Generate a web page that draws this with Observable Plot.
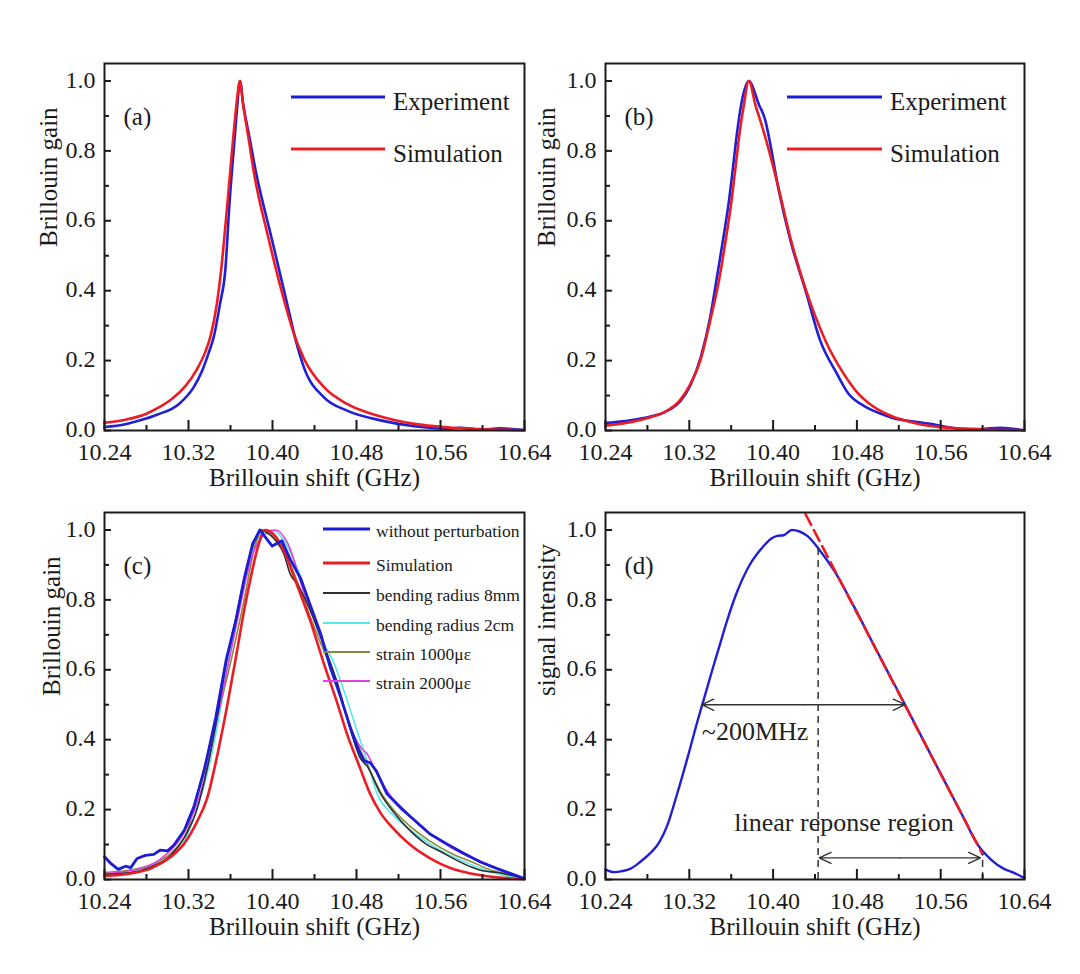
<!DOCTYPE html>
<html><head><meta charset="utf-8">
<script src="https://cdn.jsdelivr.net/npm/d3@7"></script>
<script src="https://cdn.jsdelivr.net/npm/@observablehq/plot@0.6"></script>
<style>
html,body{margin:0;padding:0;background:#fff;}
#wrap{position:relative;width:1080px;height:974px;overflow:hidden;background:#fff;}
#wrap > div{position:absolute;}
</style></head><body><div id="wrap"></div>
<script>
// ---- axis ticks ----
const xMajor = [10.24, 10.32, 10.40, 10.48, 10.56, 10.64];
const xMinor = [10.28, 10.36, 10.44, 10.52, 10.60];
const yMajor = [0, 0.2, 0.4, 0.6, 0.8, 1.0];
const yMinor = [0.1, 0.3, 0.5, 0.7, 0.9];

// ---- panel (a) ----
const aExpX = [10.240,10.260,10.274,10.290,10.311,10.325,10.333,10.339,10.344,10.350,10.355,10.359,10.364,10.3665,10.369,10.372,10.378,10.384,10.399,10.414,10.422,10.430,10.449,10.471,10.503,10.535,10.566,10.579,10.598,10.617,10.640];
const aExpY = [0.010,0.018,0.029,0.045,0.076,0.124,0.171,0.220,0.267,0.362,0.457,0.648,0.838,0.930,1.000,0.935,0.840,0.743,0.552,0.362,0.260,0.180,0.095,0.057,0.029,0.012,0.005,0.008,0.003,0.006,0.001];
const aSimX = [10.240,10.260,10.280,10.293,10.305,10.317,10.328,10.336,10.341,10.347,10.351,10.357,10.3626,10.3657,10.369,10.372,10.377,10.382,10.396,10.412,10.420,10.430,10.449,10.471,10.503,10.535,10.566,10.598,10.640];
const aSimY = [0.022,0.031,0.048,0.068,0.092,0.127,0.175,0.225,0.270,0.362,0.457,0.648,0.838,0.933,1.000,0.933,0.840,0.743,0.552,0.362,0.280,0.205,0.124,0.076,0.040,0.019,0.009,0.004,0.001];

// ---- panel (b) ----
const bExpX = [10.240,10.264,10.283,10.296,10.312,10.321,10.331,10.340,10.347,10.353,10.358,10.362,10.3655,10.370,10.3768,10.3864,10.3927,10.396,10.4055,10.4166,10.431,10.445,10.461,10.472,10.487,10.503,10.518,10.534,10.550,10.566,10.582,10.598,10.617,10.640];
const bExpY = [0.021,0.029,0.040,0.052,0.086,0.129,0.210,0.325,0.450,0.560,0.660,0.760,0.850,0.940,1.000,0.933,0.886,0.840,0.686,0.543,0.400,0.257,0.162,0.105,0.070,0.048,0.033,0.026,0.019,0.010,0.005,0.004,0.008,0.000];
const bSimX = [10.240,10.264,10.283,10.296,10.312,10.321,10.331,10.340,10.349,10.355,10.360,10.364,10.368,10.372,10.3768,10.383,10.392,10.4055,10.4166,10.431,10.450,10.4675,10.480,10.495,10.510,10.525,10.540,10.556,10.575,10.600,10.640];
const bSimY = [0.014,0.024,0.038,0.052,0.090,0.133,0.205,0.315,0.440,0.550,0.650,0.750,0.850,0.930,1.000,0.933,0.845,0.690,0.550,0.405,0.257,0.162,0.110,0.070,0.045,0.029,0.018,0.011,0.006,0.003,0.001];

// ---- panel (c) ----
const cNoneX = [10.240,10.246,10.253,10.260,10.265,10.271,10.279,10.287,10.293,10.300,10.306,10.316,10.325,10.335,10.346,10.356,10.365,10.373,10.381,10.388,10.3997,10.409,10.417,10.427,10.436,10.446,10.455,10.465,10.474,10.482,10.487,10.493,10.499,10.509,10.522,10.535,10.550,10.566,10.582,10.598,10.614,10.627,10.640];
const cNoneY = [0.065,0.046,0.029,0.038,0.034,0.060,0.069,0.072,0.084,0.082,0.098,0.141,0.207,0.312,0.464,0.630,0.740,0.860,0.960,1.000,0.954,0.969,0.915,0.860,0.785,0.702,0.607,0.521,0.436,0.370,0.340,0.334,0.310,0.245,0.205,0.170,0.130,0.102,0.075,0.050,0.031,0.017,0.003];
const cSimX = [10.240,10.265,10.284,10.303,10.316,10.328,10.338,10.347,10.357,10.366,10.373,10.379,10.386,10.393,10.401,10.411,10.423,10.436,10.449,10.462,10.471,10.482,10.493,10.503,10.514,10.530,10.554,10.570,10.589,10.614,10.640];
const cSimY = [0.010,0.017,0.031,0.065,0.103,0.165,0.235,0.350,0.500,0.650,0.770,0.860,0.950,1.000,0.988,0.940,0.845,0.740,0.617,0.502,0.416,0.330,0.245,0.190,0.149,0.102,0.054,0.032,0.017,0.006,0.001];
const cBend8X = [10.240,10.265,10.284,10.303,10.316,10.328,10.338,10.347,10.356,10.366,10.376,10.384,10.389,10.398,10.406,10.411,10.417,10.4235,10.436,10.449,10.462,10.474,10.484,10.490,10.503,10.516,10.528,10.546,10.560,10.576,10.590,10.600,10.614,10.627,10.640];
const cBend8Y = [0.015,0.020,0.036,0.069,0.120,0.200,0.320,0.460,0.620,0.760,0.900,0.975,1.000,0.985,0.960,0.930,0.873,0.846,0.770,0.670,0.560,0.430,0.345,0.325,0.245,0.190,0.149,0.102,0.080,0.054,0.035,0.025,0.020,0.012,0.003];
const cBend2X = [10.240,10.265,10.290,10.310,10.330,10.340,10.350,10.360,10.370,10.380,10.390,10.398,10.410,10.425,10.446,10.457,10.468,10.480,10.490,10.4997,10.513,10.528,10.550,10.565,10.580,10.600,10.620,10.640];
const cBend2Y = [0.012,0.020,0.040,0.080,0.220,0.330,0.480,0.660,0.800,0.930,0.990,1.000,0.975,0.880,0.690,0.630,0.540,0.430,0.340,0.245,0.190,0.149,0.102,0.075,0.054,0.030,0.012,0.003];
const cStrain1X = [10.240,10.270,10.290,10.305,10.319,10.333,10.347,10.360,10.373,10.383,10.390,10.398,10.405,10.412,10.420,10.430,10.440,10.455,10.477,10.490,10.503,10.515,10.530,10.550,10.570,10.590,10.610,10.625,10.640];
const cStrain1Y = [0.020,0.030,0.050,0.080,0.140,0.300,0.460,0.620,0.800,0.950,1.000,0.990,0.960,0.935,0.880,0.800,0.720,0.610,0.416,0.330,0.250,0.200,0.155,0.110,0.075,0.050,0.025,0.015,0.003];
const cStrain2X = [10.240,10.274,10.296,10.315,10.334,10.350,10.365,10.380,10.390,10.403,10.414,10.430,10.445,10.460,10.477,10.484,10.490,10.500,10.510,10.525,10.540,10.560,10.580,10.600,10.614,10.627,10.640];
const cStrain2Y = [0.017,0.031,0.065,0.130,0.274,0.500,0.720,0.920,0.980,1.000,0.965,0.820,0.700,0.570,0.416,0.378,0.360,0.300,0.250,0.200,0.155,0.110,0.075,0.050,0.030,0.015,0.003];

// ---- panel (d) ----
const dSigX = [10.240,10.248,10.256,10.264,10.273,10.283,10.291,10.299,10.308,10.318,10.328,10.334,10.342,10.349,10.356,10.366,10.378,10.391,10.398,10.404,10.410,10.418,10.4326,10.445,10.458,10.477,10.496,10.509,10.526,10.534,10.550,10.566,10.582,10.595,10.608,10.620,10.630,10.640];
const dSigY = [0.029,0.021,0.024,0.031,0.050,0.076,0.105,0.155,0.241,0.345,0.455,0.517,0.600,0.670,0.740,0.826,0.902,0.954,0.975,0.983,0.985,1.000,0.983,0.940,0.885,0.782,0.672,0.597,0.500,0.453,0.360,0.268,0.176,0.101,0.057,0.031,0.019,0.004];
const dFitX = [10.431, 10.600];
const dFitY = [1.045, 0.072];
const dGuideX = [10.443, 10.600];
const dGuideTop = [0.945, 0.072];
const dSpanStart = [10.332, 10.444];
const dSpanEnd = [10.526, 10.598];
const dSpanY = [0.500, 0.062];
const dNotes = ["~200MHz", "linear reponse region"];
const dNoteX = [10.332, 10.363];
const dNoteY = [0.422, 0.164];

// ---- style ----
const FONT = "'Liberation Serif', 'Times New Roman', serif";
const BLUE = "#1f1fd6", RED = "#ec1c24", INK = "#1a1a1a";
const zip = (xs, ys) => xs.map((x, i) => ({x, y: ys[i]}));
const wrap = document.getElementById("wrap");

function panel({left, top, mL, mR, mT, mB, ylabel, ylabelDx, tag, marks, legend}) {
  const W = 540, H = 500;
  const fw = W - mL - mR, fh = H - mT - mB;
  const svg = Plot.plot({
    width: W, height: H,
    marginLeft: mL, marginRight: mR, marginTop: mT, marginBottom: mB,
    x: {domain: [10.24, 10.64]},
    y: {domain: [0, 1.05]},
    style: {fontFamily: FONT, fontSize: "24px", background: "transparent", overflow: "visible", color: INK},
    marks: [
      ...marks,
      Plot.frame({stroke: INK, strokeWidth: 2}),
      Plot.tickX(xMajor, {x: d => d, insetTop: fh - 10, strokeWidth: 2, stroke: INK}),
      Plot.tickX(xMinor, {x: d => d, insetTop: fh - 5, strokeWidth: 2, stroke: INK}),
      Plot.tickY(yMajor, {y: d => d, insetRight: fw - 7, strokeWidth: 2, stroke: INK}),
      Plot.tickY(yMinor, {y: d => d, insetRight: fw - 5, strokeWidth: 2, stroke: INK}),
      Plot.axisX({ticks: xMajor, tickFormat: d3.format(".2f"), tickSize: 0, tickPadding: 12, label: null}),
      Plot.axisY({ticks: yMajor, tickFormat: d3.format(".1f"), tickSize: 0, tickPadding: 9, label: null, dy: -1}),
      Plot.text(["Brillouin shift (GHz)"], {frameAnchor: "bottom", dy: 55, text: d => d, fontSize: 25}),
      Plot.text([ylabel], {frameAnchor: "left", dx: ylabelDx, rotate: -90, text: d => d, fontSize: 25}),
      Plot.text([tag], {frameAnchor: "top-left", dx: 19, dy: 44, textAnchor: "start", text: d => d, fontSize: 25})
    ]
  });
  if (legend) {
    const g = d3.select(svg).append("g");
    legend.items.forEach((it, i) => {
      const y = legend.rows[i];
      g.append("line").attr("x1", legend.x1).attr("x2", legend.x2)
        .attr("y1", y).attr("y2", y).attr("stroke", it.color).attr("stroke-width", it.w);
      g.append("text").attr("x", legend.tx).attr("y", y + legend.base)
        .attr("text-anchor", "start").attr("font-size", legend.fs).attr("fill", INK).text(it.label);
    });
  }
  const div = document.createElement("div");
  div.style.left = left + "px"; div.style.top = top + "px";
  div.appendChild(svg);
  wrap.appendChild(div);
}

const lineOpts = (stroke, w) => ({x: "x", y: "y", stroke, strokeWidth: w, curve: "monotone-x"});

panel({
  left: 0, top: 0, mL: 104, mR: 16, mT: 63, mB: 70,
  ylabel: "Brillouin gain", ylabelDx: -56, tag: "(a)",
  marks: [
    Plot.line(zip(aExpX, aExpY), lineOpts(BLUE, 2.6)),
    Plot.line(zip(aSimX, aSimY), lineOpts(RED, 2.6))
  ],
  legend: {x1: 291, x2: 385, tx: 393, base: 13, fs: 25, rows: [97, 149],
    items: [{label: "Experiment", color: BLUE, w: 3}, {label: "Simulation", color: RED, w: 3}]}
});

panel({
  left: 540, top: 0, mL: 65, mR: 56, mT: 63, mB: 70,
  ylabel: "Brillouin gain", ylabelDx: -59, tag: "(b)",
  marks: [
    Plot.line(zip(bExpX, bExpY), lineOpts(BLUE, 2.6)),
    Plot.line(zip(bSimX, bSimY), lineOpts(RED, 2.6))
  ],
  legend: {x1: 247, x2: 342, tx: 350, base: 13, fs: 25, rows: [97, 149],
    items: [{label: "Experiment", color: BLUE, w: 3}, {label: "Simulation", color: RED, w: 3}]}
});

const cColors = {none: "#1c1cd4", sim: RED, bend8: "#2b2f2f", bend2: "#55e8ee", s1: "#8a8a3c", s2: "#e040e6"};
panel({
  left: 0, top: 450, mL: 104, mR: 16, mT: 62, mB: 71,
  ylabel: "Brillouin gain", ylabelDx: -53, tag: "(c)",
  marks: [
    Plot.line(zip(cBend2X, cBend2Y), lineOpts(cColors.bend2, 1.6)),
    Plot.line(zip(cStrain1X, cStrain1Y), lineOpts(cColors.s1, 1.6)),
    Plot.line(zip(cStrain2X, cStrain2Y), lineOpts(cColors.s2, 1.6)),
    Plot.line(zip(cBend8X, cBend8Y), lineOpts(cColors.bend8, 1.6)),
    Plot.line(zip(cSimX, cSimY), lineOpts(RED, 2.6)),
    Plot.line(zip(cNoneX, cNoneY), {x: "x", y: "y", stroke: cColors.none, strokeWidth: 2.8})
  ],
  legend: {x1: 323, x2: 370, tx: 376, base: 8, fs: 17.5, rows: [79, 113, 143, 173, 202, 231],
    items: [
      {label: "without perturbation", color: cColors.none, w: 3},
      {label: "Simulation", color: RED, w: 3},
      {label: "bending radius 8mm", color: cColors.bend8, w: 2},
      {label: "bending radius 2cm", color: cColors.bend2, w: 2},
      {label: "strain 1000με", color: cColors.s1, w: 2},
      {label: "strain 2000με", color: cColors.s2, w: 2}
    ]}
});

const guides = dGuideX.map((x, i) => ({x, top: dGuideTop[i]}));
const spans = dSpanY.flatMap((y, i) => {
  const mid = (dSpanStart[i] + dSpanEnd[i]) / 2;
  return [{x1: mid, x2: dSpanStart[i], y}, {x1: mid, x2: dSpanEnd[i], y}];
});
const notes = dNotes.map((t, i) => ({t, x: dNoteX[i], y: dNoteY[i]}));
panel({
  left: 540, top: 450, mL: 65, mR: 56, mT: 62, mB: 71,
  ylabel: "signal intensity", ylabelDx: -59, tag: "(d)",
  marks: [
    Plot.line(zip(dSigX, dSigY), lineOpts(BLUE, 2.4)),
    Plot.line(zip(dFitX, dFitY), {x: "x", y: "y", stroke: RED, strokeWidth: 2.6, strokeDasharray: "12,6"}),
    Plot.ruleX(guides, {x: "x", y1: 0, y2: "top", stroke: "#333", strokeWidth: 1.5, strokeDasharray: "7,5"}),
    Plot.arrow(spans, {x1: "x1", x2: "x2", y1: "y", y2: "y", stroke: "#333", strokeWidth: 1.4, headLength: 14, headAngle: 50}),
    Plot.text(notes, {x: "x", y: "y", text: "t", textAnchor: "start", fontSize: 26, fill: "#222"})
  ]
});
</script></body></html>
